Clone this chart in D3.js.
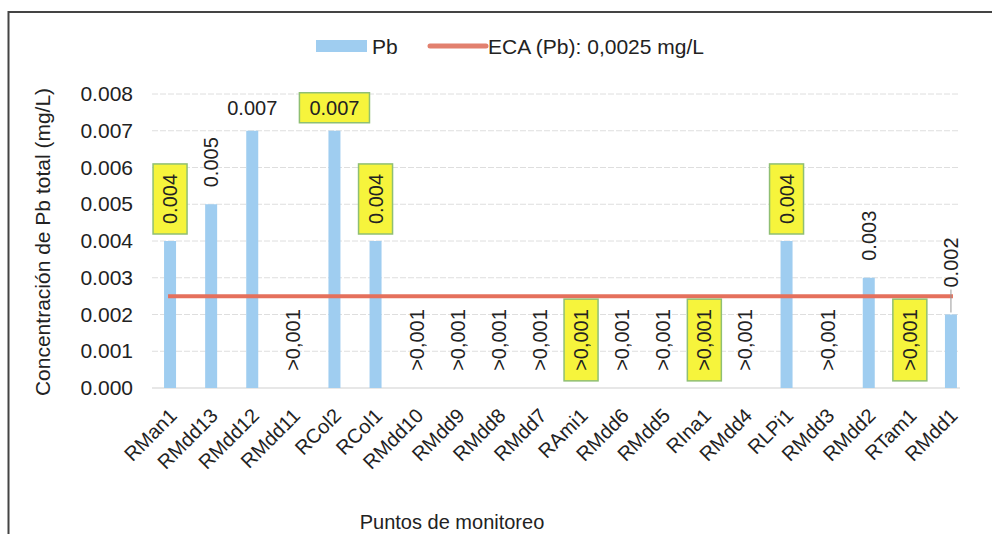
<!DOCTYPE html>
<html>
<head>
<meta charset="utf-8">
<script src="https://cdn.jsdelivr.net/npm/d3@7/dist/d3.min.js"></script>
<style>
  html, body { margin: 0; padding: 0; background: #fff; }
  svg { display: block; font-family: "Liberation Sans", Arial, sans-serif; }
</style>
</head>
<body>
<svg id="chart" width="992" height="534"></svg>
<script>
// ---- data ----
const categories = ["RMan1","RMdd13","RMdd12","RMdd11","RCol2","RCol1","RMdd10","RMdd9","RMdd8","RMdd7",
                    "RAmi1","RMdd6","RMdd5","RIna1","RMdd4","RLPi1","RMdd3","RMdd2","RTam1","RMdd1"];
const pbValues   = [0.004,0.005,0.007,0,0.007,0.004,0,0,0,0,
                    0,0,0,0,0,0.004,0,0.003,0,0.002];
const pbLabels   = ["0.004","0.005","0.007",">0,001","0.007","0.004",">0,001",">0,001",">0,001",">0,001",
                    ">0,001",">0,001",">0,001",">0,001",">0,001","0.004",">0,001","0.003",">0,001","0.002"];
const highlighted = ["RMan1","RCol2","RCol1","RAmi1","RIna1","RLPi1","RTam1"];
const leaderLabels = ["RMdd1"];
const ecaValue = 0.0025;
const yTicks = [0,0.001,0.002,0.003,0.004,0.005,0.006,0.007,0.008];
const legendLabels = ["Pb","ECA (Pb): 0,0025 mg/L"];
const yTitle = "Concentración de Pb total (mg/L)";
const xTitle = "Puntos de monitoreo";

// ---- layout ----
const svg = d3.select("#chart");
const barColor = "#9fcdf0";
const lineColor = "#e5705c";
const textColor = "#222";

const x = d3.scaleBand().domain(categories).range([149.5, 971.5]).padding(0);
const y = d3.scaleLinear().domain([0, 0.008]).range([388, 94]);
const gridX0 = 152, gridX1 = 960;

// frame
svg.append("rect").attr("x", 8.5).attr("y", 12).attr("width", 990).attr("height", 600)
  .attr("fill", "none").attr("stroke", "#444").attr("stroke-width", 2);

// gridlines
svg.append("g").selectAll("line").data(yTicks).join("line")
  .attr("x1", gridX0).attr("x2", gridX1)
  .attr("y1", d => y(d)).attr("y2", d => y(d))
  .attr("stroke", d => d === 0 ? "#cfcfcf" : "#dedede").attr("stroke-width", 1)
  .attr("stroke-dasharray", d => d === 0 ? null : "6,2");

// y axis tick labels
const yAxis = d3.axisLeft(y).tickValues(yTicks).tickFormat(d3.format(".3f")).tickSize(0).tickPadding(0);
const yg = svg.append("g").attr("transform", "translate(133,0)").call(yAxis);
yg.select(".domain").remove();
yg.selectAll("text").attr("font-size", 21).attr("fill", textColor)
  .attr("font-family", "'Liberation Sans', Arial, sans-serif");

// bars
const bw = 12;
const cx = c => x(c) + x.bandwidth() / 2;
svg.append("g").selectAll("rect").data(categories.map((c, i) => ({c, v: pbValues[i]})).filter(d => d.v > 0))
  .join("rect")
  .attr("x", d => cx(d.c) - bw / 2).attr("width", bw)
  .attr("y", d => y(d.v)).attr("height", d => y(0) - y(d.v))
  .attr("fill", barColor);

// ECA line
svg.append("line")
  .attr("x1", cx(categories[0]) - 2).attr("x2", cx(categories[categories.length - 1]) + 2)
  .attr("y1", y(ecaValue)).attr("y2", y(ecaValue))
  .attr("stroke", lineColor).attr("stroke-width", 4);

// data labels
const lg = svg.append("g");
categories.forEach((c, i) => {
  const v = pbValues[i];
  const txt = pbLabels[i];
  const hl = highlighted.includes(c);
  const xc = cx(c);
  const g = lg.append("g");
  if (v >= 0.007) {
    const ty = y(v) - 16;
    const t = g.append("text").attr("x", xc).attr("y", ty).attr("text-anchor", "middle")
      .attr("font-size", 20).attr("fill", textColor).text(txt);
    if (hl) {
      const bb = t.node().getBBox();
      g.insert("rect", "text").attr("x", bb.x - 10).attr("y", bb.y - 4)
        .attr("width", bb.width + 20).attr("height", bb.height + 8)
        .attr("fill", "#f6f43c").attr("stroke", "#8fbf73").attr("stroke-width", 1.5);
    }
  } else {
    let startY, anchor = "start";
    if (v > 0) {
      startY = y(v) - 17;
      if (leaderLabels.includes(c)) {
        startY = y(v) - 27;
        g.append("line").attr("x1", xc).attr("x2", xc)
          .attr("y1", y(v) - 2).attr("y2", startY + 2)
          .attr("stroke", "#999").attr("stroke-width", 1);
      }
    } else {
      startY = y(0) - 48;
      anchor = "middle";
    }
    const t = g.append("text").attr("transform", `translate(${xc},${startY}) rotate(-90)`)
      .attr("text-anchor", anchor).attr("dy", "0.35em")
      .attr("font-size", 20).attr("fill", textColor).text(txt);
    if (hl) {
      const bb = t.node().getBBox();
      g.insert("rect", "text").attr("transform", `translate(${xc},${startY}) rotate(-90)`)
        .attr("x", bb.x - 10).attr("y", -17)
        .attr("width", bb.width + 20).attr("height", 34)
        .attr("fill", "#f6f43c").attr("stroke", "#8fbf73").attr("stroke-width", 1.5);
    }
  }
});

// x axis labels
const xAxis = d3.axisBottom(x).tickSize(0).tickPadding(0);
const xg = svg.append("g").attr("transform", "translate(0,388)").call(xAxis);
xg.select(".domain").remove();
xg.selectAll(".tick text")
  .attr("font-size", 20).attr("fill", textColor)
  .attr("font-family", "'Liberation Sans', Arial, sans-serif")
  .attr("text-anchor", "end")
  .attr("dy", 0).attr("y", 0)
  .attr("transform", "translate(8,29) rotate(-45)");

// axis titles
svg.append("text").attr("transform", "translate(50,242) rotate(-90)")
  .attr("text-anchor", "middle").attr("font-size", 21).attr("fill", textColor).text(yTitle);
svg.append("text").attr("x", 452).attr("y", 529)
  .attr("text-anchor", "middle").attr("font-size", 20).attr("fill", textColor).text(xTitle);

// legend
const leg = svg.append("g");
leg.append("rect").attr("x", 316).attr("y", 40).attr("width", 51).attr("height", 12)
  .attr("fill", barColor);
leg.append("text").attr("x", 372).attr("y", 54).attr("font-size", 21).attr("fill", textColor).text(legendLabels[0]);
leg.append("line").attr("x1", 430).attr("x2", 486).attr("y1", 46).attr("y2", 46)
  .attr("stroke", "#e2806e").attr("stroke-width", 5).attr("stroke-linecap", "round");
leg.append("text").attr("x", 488).attr("y", 54).attr("font-size", 21).attr("fill", textColor).text(legendLabels[1]);
</script>
</body>
</html>
